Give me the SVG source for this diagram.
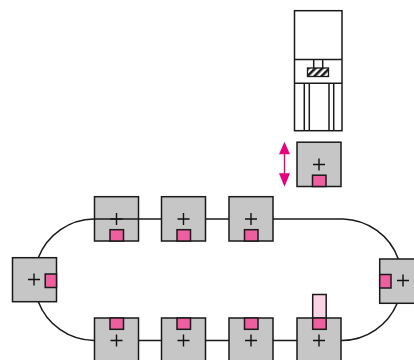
<svg xmlns="http://www.w3.org/2000/svg" width="414" height="360" viewBox="0 0 414 360">
<style>
.l{fill:none;stroke:#1a1a1a;stroke-width:1.5}
.g{fill:#c6c6c6;stroke:#1a1a1a;stroke-width:1.5}
.p{fill:#ee5fa0;stroke:#1a1a1a;stroke-width:1.5}
.c{fill:none;stroke:#111;stroke-width:1.4}
.u{fill:#fff;stroke:#1a1a1a;stroke-width:1.5}
</style>
<defs>
<pattern id="h" width="5" height="5" patternUnits="userSpaceOnUse" patternTransform="rotate(45)"><rect width="5" height="5" fill="#fff"/><rect width="2.500" height="5" fill="#1a1a1a"/></pattern>
<g id="top"><rect class="g" x="0" y="0" width="44" height="44.300"/><path class="c" d="M16 22.300h12M22 16.300v12"/><rect class="p" x="15.500" y="33" width="13.500" height="11.300"/></g>
<g id="bot"><rect class="g" x="0" y="0" width="44" height="44.300"/><path class="c" d="M16 22.500h12M22 16.500v12"/><rect class="p" x="15.500" y="0" width="13.500" height="11.300"/></g>
</defs>
<g id="connectors">
<path class="l" d="M38.300 257.700A60.500 60.500 0 0 1 94 219H343A60.500 60.500 0 0 1 398.300 259"/>
<path class="l" d="M38.300 301.700A60.500 60.500 0 0 0 94 340.500H342A60.500 60.500 0 0 0 397.300 303"/>
</g>
<g id="press">
<rect class="u" x="294.500" y="10.700" width="47.500" height="120"/>
<path class="l" d="M294.500 59.500H342M294.500 83.300H342M304.300 83.300V130.700M309.300 83.300V130.700M329 83.300V130.700M333.700 83.300V130.700M313.700 59.500V68M322.700 59.500V68"/>
<rect x="307.500" y="68" width="21" height="8.500" fill="url(#h)" stroke="#1a1a1a" stroke-width="1.300"/>
</g>
<g id="arrow">
<path d="M284.500 150V180" stroke="#e6007e" stroke-width="1.400" fill="none"/>
<path d="M284.500 141.700L290 154.300H279ZM284.500 186.700L279 173.300H290Z" fill="#e6007e"/>
</g>
<use id="lift" href="#top" x="297" y="142.200"/>
<use id="t1" href="#top" x="94.500" y="196.700"/>
<use id="t2" href="#top" x="161.500" y="196.700"/>
<use id="t3" href="#top" x="229" y="196.700"/>
<g id="left"><rect class="g" x="12.500" y="257.700" width="44" height="44"/><path class="c" d="M28 279.500h12M34 273.500v12"/><rect class="p" x="45.200" y="274" width="11.300" height="13.500"/></g>
<g id="right"><rect class="g" x="379.700" y="259" width="44" height="44.300"/><path class="c" d="M397 280.500h12M403 274.500v12"/><rect class="p" x="379.700" y="274.500" width="11.300" height="13.500"/></g>
<use id="b1" href="#bot" x="94.500" y="318"/>
<use id="b2" href="#bot" x="161.500" y="318"/>
<use id="b3" href="#bot" x="229" y="318"/>
<g id="b4"><rect class="g" x="297" y="318" width="44" height="44.300"/><path class="c" d="M313 340.500h12M319 334.500v12"/>
<rect x="312.700" y="294.500" width="13.500" height="23.500" fill="#f9d3e6" stroke="#1a1a1a" stroke-width="1.500"/>
<rect class="p" x="312.700" y="318" width="13.500" height="11.300"/></g>
<path class="l" d="M94 219H139"/>
</svg>
